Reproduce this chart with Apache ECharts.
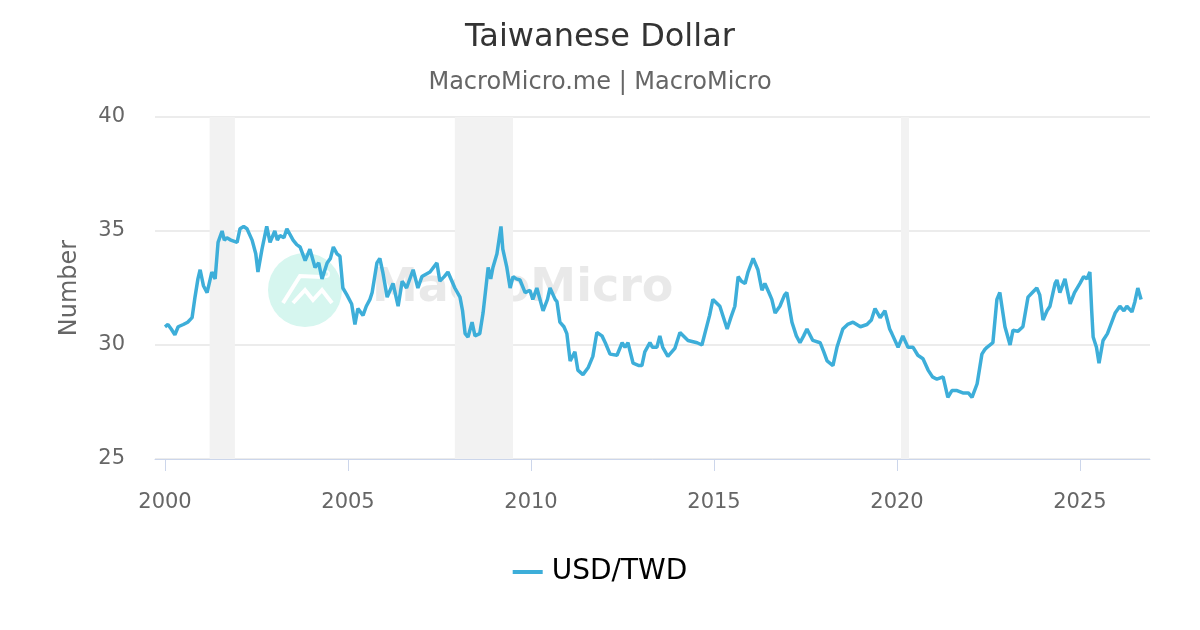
<!DOCTYPE html>
<html>
<head>
<meta charset="utf-8">
<script src="https://cdn.jsdelivr.net/npm/echarts@6/dist/echarts.min.js"></script>
<style>
  html, body { margin: 0; padding: 0; background: #fff; }
  #chart { width: 1200px; height: 630px; }
</style>
</head>
<body>
<div id="chart"></div>
<script>
// decimal years
var years = [
  2000.00, 2000.08, 2000.17, 2000.27, 2000.36, 2000.50, 2000.62, 2000.74, 2000.82, 2000.90,
  2000.96, 2001.05, 2001.15, 2001.28, 2001.37, 2001.45, 2001.56, 2001.62, 2001.69, 2001.80,
  2001.97, 2002.05, 2002.15, 2002.24, 2002.38, 2002.48, 2002.54, 2002.65, 2002.78, 2002.87,
  2003.00, 2003.07, 2003.14, 2003.25, 2003.33, 2003.50, 2003.60, 2003.69, 2003.83, 2003.96,
  2004.10, 2004.20, 2004.29, 2004.43, 2004.52, 2004.60, 2004.70, 2004.78, 2004.86, 2004.97,
  2005.10, 2005.19, 2005.27, 2005.41, 2005.50, 2005.60, 2005.66, 2005.79, 2005.87, 2005.95,
  2006.07, 2006.23, 2006.37, 2006.48, 2006.60, 2006.78, 2006.91, 2007.02, 2007.24, 2007.43,
  2007.51, 2007.63, 2007.73, 2007.92, 2008.06, 2008.13, 2008.20, 2008.28, 2008.39, 2008.47,
  2008.60, 2008.69, 2008.83, 2008.90, 2008.96, 2009.07, 2009.18, 2009.23, 2009.34, 2009.43,
  2009.51, 2009.60, 2009.70, 2009.84, 2009.97, 2010.05, 2010.16, 2010.33, 2010.45, 2010.52,
  2010.66, 2010.71, 2010.79, 2010.90, 2010.98, 2011.07, 2011.20, 2011.28, 2011.42, 2011.56,
  2011.69, 2011.80, 2011.94, 2012.03, 2012.16, 2012.35, 2012.49, 2012.57, 2012.65, 2012.79,
  2012.95, 2013.03, 2013.11, 2013.25, 2013.32, 2013.44, 2013.52, 2013.60, 2013.74, 2013.93,
  2014.07, 2014.29, 2014.54, 2014.67, 2014.75, 2014.88, 2014.97, 2015.16, 2015.36, 2015.46,
  2015.57, 2015.66, 2015.75, 2015.85, 2015.93, 2016.07, 2016.20, 2016.31, 2016.39, 2016.50,
  2016.58, 2016.67, 2016.80, 2016.93, 2016.99, 2017.13, 2017.25, 2017.35, 2017.45, 2017.54,
  2017.70, 2017.90, 2018.00, 2018.09, 2018.25, 2018.36, 2018.52, 2018.65, 2018.80, 2019.00,
  2019.18, 2019.30, 2019.40, 2019.54, 2019.67, 2019.80, 2019.86, 2020.03, 2020.16, 2020.30,
  2020.44, 2020.57, 2020.71, 2020.85, 2020.97, 2021.09, 2021.26, 2021.39, 2021.50, 2021.64,
  2021.80, 2021.95, 2022.05, 2022.19, 2022.32, 2022.40, 2022.46, 2022.62, 2022.73, 2022.81,
  2022.95, 2023.09, 2023.17, 2023.30, 2023.44, 2023.58, 2023.70, 2023.82, 2023.90, 2023.99,
  2024.10, 2024.18, 2024.32, 2024.37, 2024.45, 2024.59, 2024.73, 2024.85, 2025.00, 2025.10,
  2025.19, 2025.27, 2025.32, 2025.36, 2025.45, 2025.52, 2025.63, 2025.75, 2025.82, 2025.96,
  2026.09, 2026.20, 2026.28, 2026.42, 2026.50, 2026.58, 2026.67
];
var usdTwd = [
  30.8, 30.9, 30.7, 30.45, 30.8, 30.9, 31.0, 31.2, 32.1, 32.9,
  33.3, 32.6, 32.3, 33.2, 32.9, 34.5, 35.0, 34.6, 34.7, 34.6,
  34.5, 35.1, 35.2, 35.1, 34.6, 34.0, 33.2, 34.2, 35.2, 34.5,
  35.0, 34.6, 34.8, 34.7, 35.1, 34.6, 34.4, 34.3, 33.7, 34.2,
  33.4, 33.6, 32.9, 33.6, 33.8, 34.3, 34.0, 33.9, 32.5, 32.2,
  31.8, 30.9, 31.6, 31.3, 31.7, 32.0, 32.3, 33.6, 33.8, 33.2,
  32.1, 32.7, 31.7, 32.8, 32.5, 33.3, 32.5, 33.0, 33.2, 33.6,
  32.8, 33.0, 33.2, 32.5, 32.1, 31.5, 30.5, 30.35, 31.0, 30.4,
  30.5, 31.4, 33.4, 32.9, 33.4, 34.0, 35.2, 34.2, 33.4, 32.5,
  33.0, 32.9, 32.85, 32.3, 32.4, 32.0, 32.5, 31.5, 32.0, 32.5,
  32.0, 31.9, 31.0, 30.8, 30.5, 29.3, 29.7, 28.9, 28.7, 29.0,
  29.5, 30.55, 30.4, 30.1, 29.6, 29.55, 30.1, 29.9, 30.1, 29.2,
  29.1, 29.1, 29.7, 30.1, 29.9, 29.9, 30.4, 29.9, 29.5, 29.85,
  30.55, 30.2, 30.1, 30.0, 30.5, 31.3, 32.0, 31.7, 30.7, 31.2,
  31.7, 33.0, 32.8, 32.7, 33.2, 33.8, 33.3, 32.4, 32.7, 32.3,
  32.0, 31.4, 31.7, 32.2, 32.3, 31.0, 30.4, 30.1, 30.4, 30.7,
  30.2, 30.1, 29.7, 29.3, 29.1, 29.9, 30.7, 30.9, 31.0, 30.8,
  30.9, 31.1, 31.6, 31.2, 31.5, 30.7, 30.5, 29.9, 30.4, 29.9,
  29.9, 29.55, 29.4, 28.9, 28.6, 28.5, 28.6, 27.7, 28.0, 28.0,
  27.9, 27.9, 27.7, 28.3, 29.6, 29.8, 29.9, 30.1, 32.0, 32.3,
  30.8, 30.0, 30.65, 30.6, 30.8, 32.1, 32.3, 32.5, 32.2, 31.1,
  31.5, 31.7, 32.7, 32.85, 32.3, 32.9, 31.8, 32.3, 32.7, 33.0,
  32.9, 33.2, 31.5, 30.35, 29.9, 29.2, 30.2, 30.5, 30.8, 31.4,
  31.7, 31.5, 31.7, 31.45, 31.9, 32.5, 32.0
];
var yearTicks = [2000, 2005, 2010, 2015, 2020, 2025];
// shaded recession spans [start, end]
var recessions = [[2001.22, 2001.91], [2007.92, 2009.51], [2020.11, 2020.33]];

var pts = [];
for (var i = 0; i < years.length; i++) {
  pts.push([years[i], usdTwd[i]]);
}
var bands = [];
for (var j = 0; j < recessions.length; j++) {
  bands.push([{ xAxis: recessions[j][0] }, { xAxis: recessions[j][1] }]);
}

var font = 'DejaVu Sans';
var myChart = echarts.init(document.getElementById('chart'));
var option = {
  backgroundColor: '#fff',
  animation: false,
  title: {
    text: 'Taiwanese Dollar',
    subtext: 'MacroMicro.me | MacroMicro',
    left: 'center',
    top: 17,
    itemGap: 17,
    textStyle: { fontFamily: font, fontSize: 32, fontWeight: 'normal', color: '#333' },
    subtextStyle: { fontFamily: font, fontSize: 24, color: '#666' }
  },
  graphic: [
    {
      type: 'circle', z: 0, silent: true,
      shape: { cx: 305, cy: 290, r: 37 },
      style: { fill: '#d6f6ef' }
    },
    {
      type: 'polyline', z: 0, silent: true,
      shape: { points: [[283, 303], [300, 276], [322, 277]] },
      style: { stroke: '#fff', lineWidth: 4, fill: null }
    },
    {
      type: 'circle', z: 0, silent: true,
      shape: { cx: 326, cy: 274, r: 3 },
      style: { stroke: '#fff', lineWidth: 2, fill: null }
    },
    {
      type: 'polyline', z: 0, silent: true,
      shape: { points: [[293, 303], [305, 290], [313, 300], [322, 290], [332, 303]] },
      style: { stroke: '#fff', lineWidth: 4, fill: null }
    },
    {
      type: 'text', z: 0, silent: true,
      left: 372, top: 266,
      style: { text: 'MacroMicro', fontFamily: font, fontSize: 46, fontWeight: 'bold', fill: 'rgba(215,215,215,0.55)' }
    }
  ],
  legend: {
    bottom: 39,
    left: 'center',
    icon: 'rect',
    itemWidth: 30,
    itemHeight: 4,
    itemGap: 10,
    textStyle: { fontFamily: font, fontSize: 28, color: '#000', padding: [0, 0, 0, 4] },
    data: ['USD/TWD']
  },
  grid: { left: 155, right: 50, top: 117, bottom: 171 },
  xAxis: {
    type: 'value',
    min: 1999.727,
    max: 2026.913,
    axisLine: { show: true, lineStyle: { color: '#ccd6eb' } },
    axisTick: { show: true, customValues: yearTicks, length: 12, lineStyle: { color: '#ccd6eb' } },
    axisLabel: {
      customValues: yearTicks,
      margin: 33,
      fontFamily: font, fontSize: 21, color: '#666',
      formatter: function (v) { return String(Math.round(v)); }
    },
    splitLine: { show: false }
  },
  yAxis: {
    type: 'value',
    min: 25,
    max: 40,
    interval: 5,
    name: 'Number',
    nameLocation: 'middle',
    nameGap: 73,
    nameTextStyle: { fontFamily: font, fontSize: 24, color: '#666' },
    axisLine: { show: false },
    axisTick: { show: false },
    axisLabel: { margin: 30, fontFamily: font, fontSize: 21, color: '#666' },
    splitLine: { lineStyle: { color: '#e6e6e6', width: 1.5 } }
  },
  series: [{
    name: 'USD/TWD',
    type: 'line',
    data: pts,
    showSymbol: false,
    symbol: 'none',
    color: '#3daed9',
    lineStyle: { width: 3.5, color: '#3daed9' },
    z: 3,
    markArea: {
      silent: true,
      itemStyle: { color: '#f2f2f2' },
      data: bands
    }
  }]
};
myChart.setOption(option);
</script>
</body>
</html>
